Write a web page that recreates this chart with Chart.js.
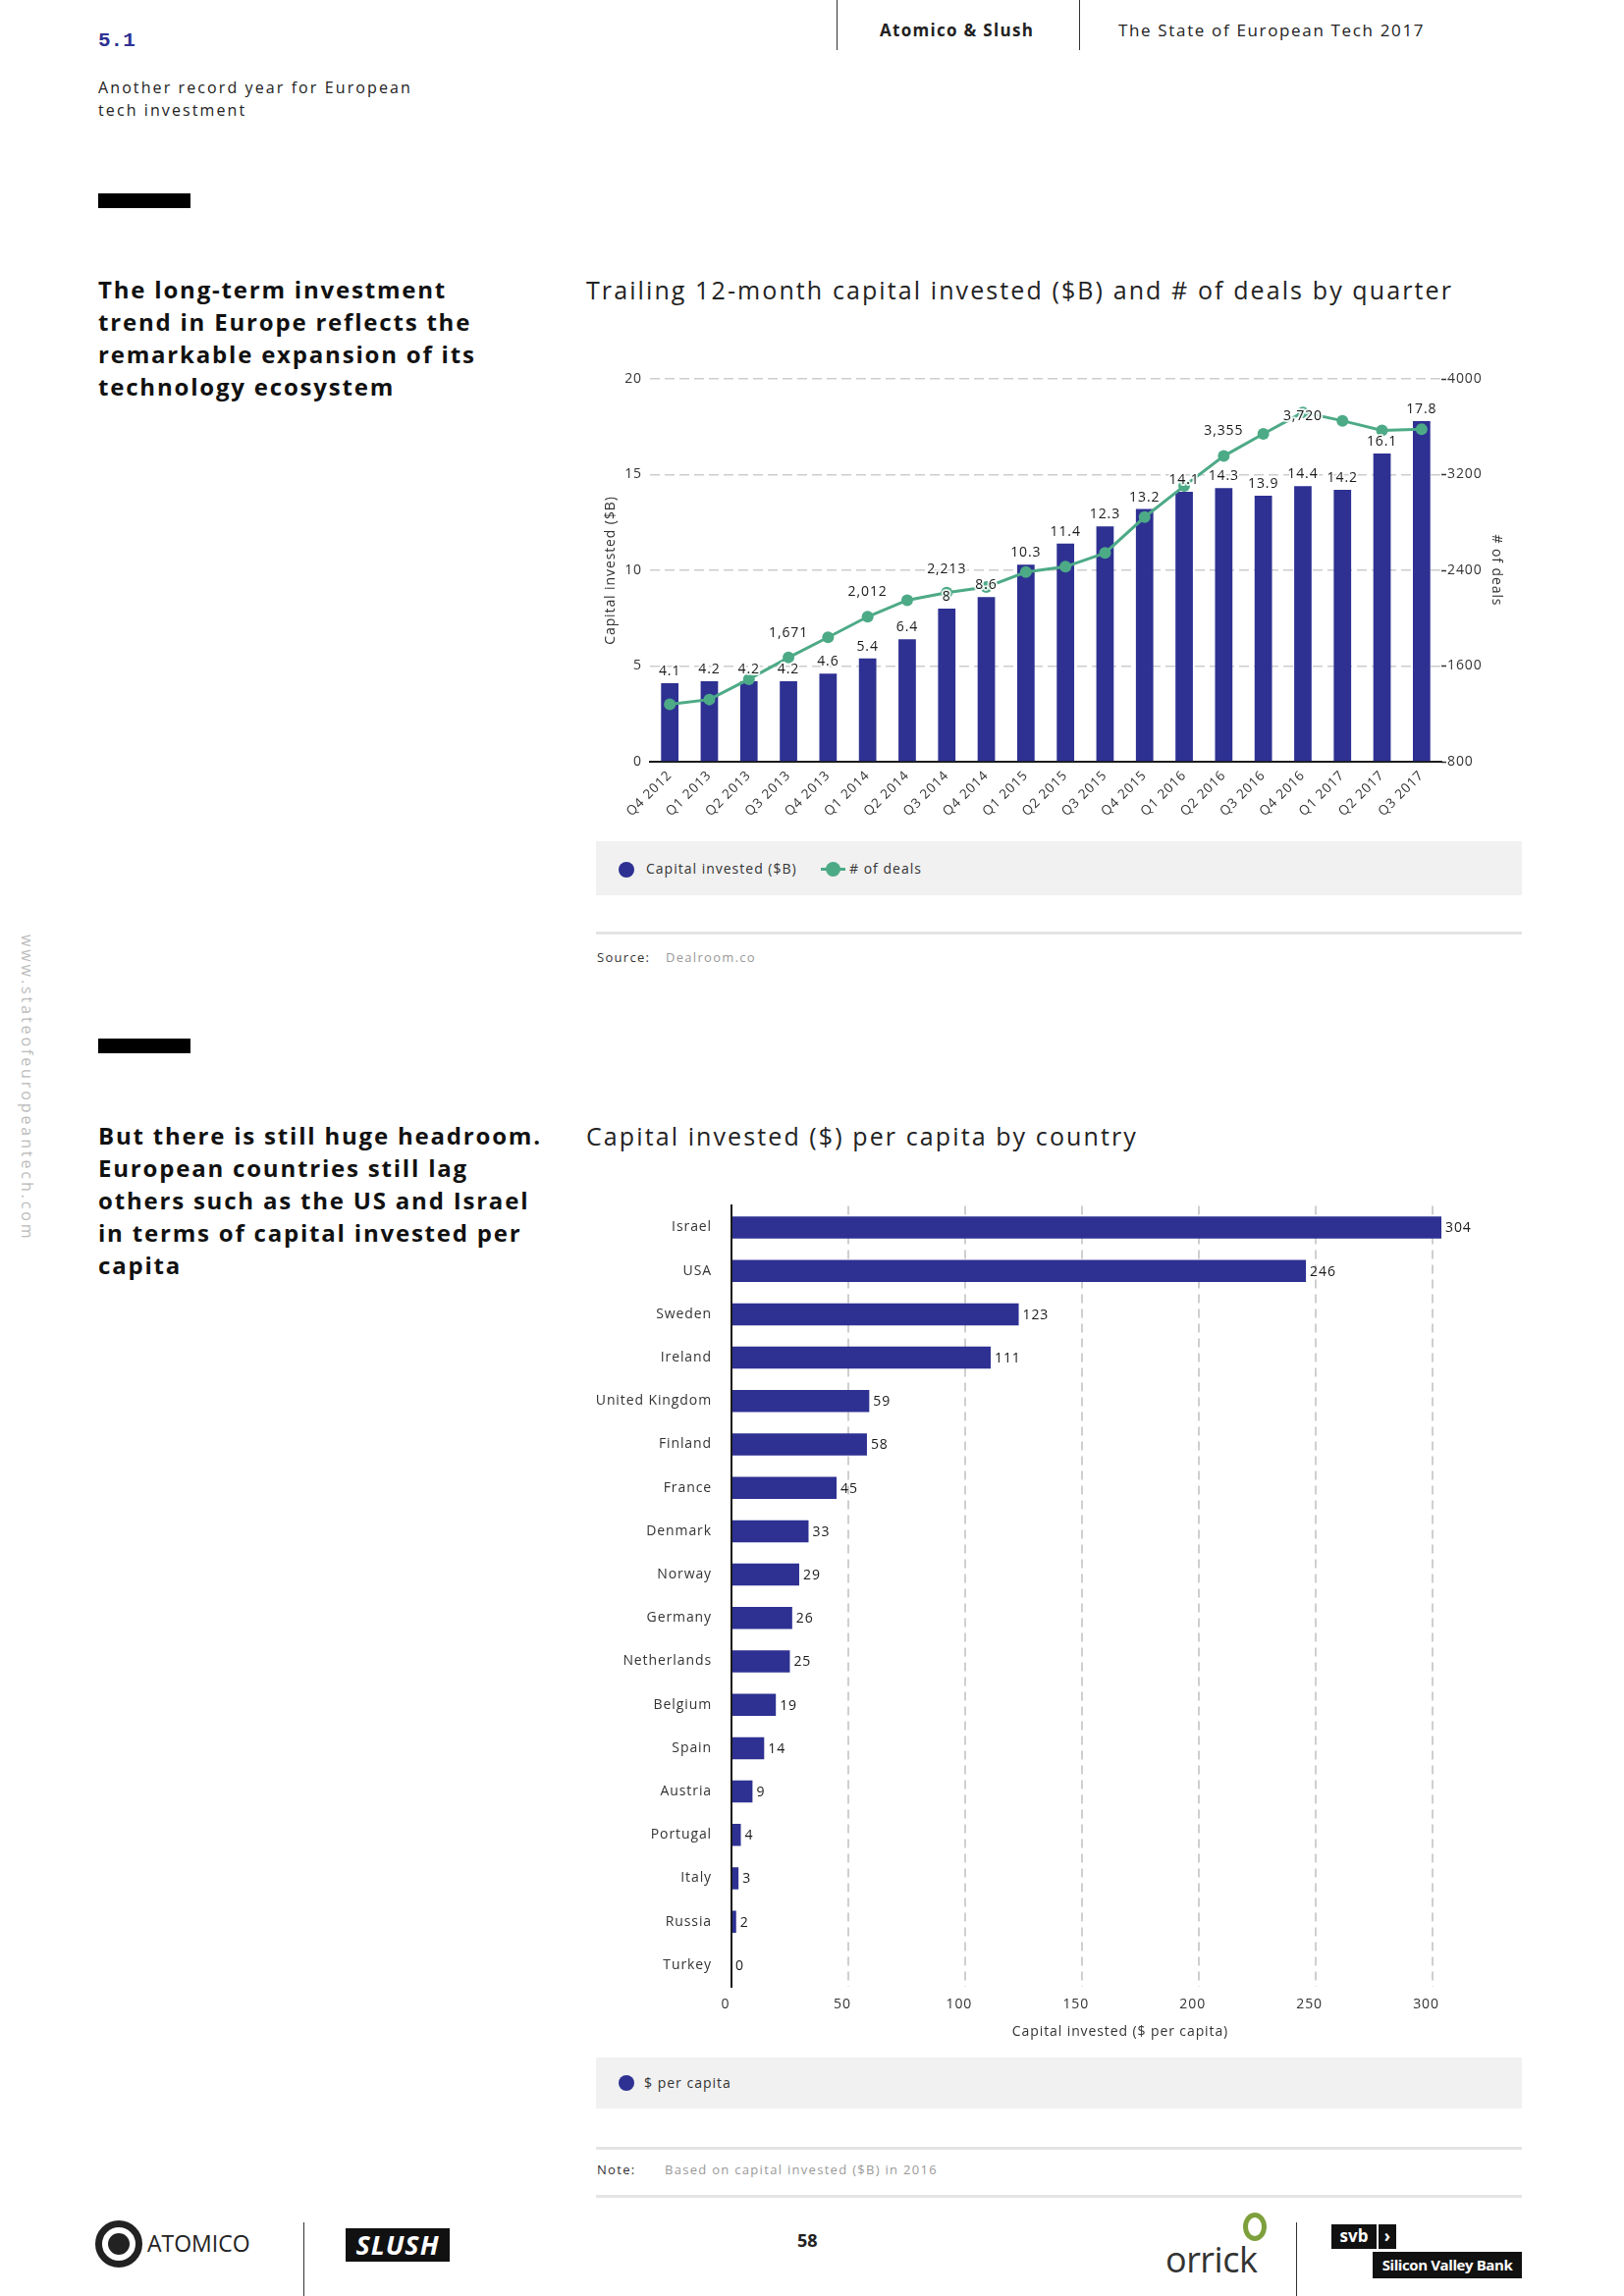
<!DOCTYPE html>
<html>
<head>
<meta charset="utf-8">
<script src="https://cdn.jsdelivr.net/npm/chart.js@4.4.1/dist/chart.umd.min.js"></script>
<style>
  html,body{margin:0;padding:0;background:#fff;}
  body{width:1654px;height:2339px;position:relative;overflow:hidden;font-family:"Open Sans",sans-serif;color:#222;}
  .a{position:absolute;white-space:nowrap;}
  .vline{position:absolute;width:1px;background:#333;}
  .bar{position:absolute;background:#000;}
  .lead{font-size:16px;line-height:23px;letter-spacing:2.1px;color:#222;}
  .head{font-weight:700;font-size:24px;line-height:33px;letter-spacing:1.8px;color:#111;white-space:nowrap;}
  .ctitle{font-size:25px;line-height:30px;letter-spacing:2.1px;color:#222;}
  .legend{position:absolute;left:607px;width:943px;height:55px;background:#f1f1f1;}
  .legend .dot{position:absolute;width:16px;height:16px;border-radius:50%;background:#2e3192;}
  .legend .txt{position:absolute;font-size:14px;line-height:20px;letter-spacing:1px;color:#333;}
  .sep{position:absolute;left:607px;width:943px;height:3px;background:#e4e4e4;}
  .note{font-size:13px;line-height:18px;letter-spacing:1.3px;}
  canvas{position:absolute;}
</style>
</head>
<body>
<!-- header -->
<div class="vline" style="left:852px;top:0;height:51px;"></div>
<div class="vline" style="left:1099px;top:0;height:51px;"></div>
<div class="a" style="left:896px;top:20px;font-size:17px;line-height:22px;font-weight:700;letter-spacing:1.3px;">Atomico &amp; Slush</div>
<div class="a" style="left:1139px;top:20px;font-size:17px;line-height:22px;letter-spacing:1.65px;">The State of European Tech 2017</div>

<div class="a" style="left:100px;top:29px;font-family:'Liberation Mono',monospace;font-weight:700;font-size:21px;line-height:26px;color:#2e3192;">5.1</div>
<div class="a lead" style="left:100px;top:78px;">Another record year for European<br>tech investment</div>

<div class="a" style="left:17px;top:952px;writing-mode:vertical-rl;font-size:16px;letter-spacing:2.9px;color:#bbb;">www.stateofeuropeantech.com</div>

<!-- section 1 -->
<div class="bar" style="left:100px;top:197px;width:94px;height:15px;"></div>
<div class="a head" style="left:100px;top:278px;">The long-term investment<br>trend in Europe reflects the<br>remarkable expansion of its<br>technology ecosystem</div>
<div class="a ctitle" style="left:597px;top:280px;">Trailing 12-month capital invested ($B) and # of deals by quarter</div>
<canvas id="c1" width="970" height="480" style="left:590px;top:360px;width:970px;height:480px;"></canvas>

<div class="legend" style="top:857px;">
  <div class="dot" style="left:23px;top:21px;"></div>
  <div class="txt" style="left:51px;top:18px;">Capital invested ($B)</div>
  <div style="position:absolute;left:229px;top:27px;width:25px;height:3px;background:#4daa87;"></div>
  <div style="position:absolute;left:234px;top:21px;width:15px;height:15px;border-radius:50%;background:#4daa87;"></div>
  <div class="txt" style="left:258px;top:18px;">#&nbsp;of deals</div>
</div>
<div class="sep" style="top:949px;"></div>
<div class="a note" style="left:608px;top:966px;color:#333;">Source:</div>
<div class="a note" style="left:678px;top:966px;color:#999;">Dealroom.co</div>

<!-- section 2 -->
<div class="bar" style="left:100px;top:1058px;width:94px;height:15px;"></div>
<div class="a head" style="left:100px;top:1140px;">But there is still huge headroom.<br>European countries still lag<br>others such as the US and Israel<br>in terms of capital invested per<br>capita</div>
<div class="a ctitle" style="left:597px;top:1142px;">Capital invested ($) per capita by country</div>
<canvas id="c2" width="970" height="890" style="left:590px;top:1200px;width:970px;height:890px;"></canvas>

<div class="legend" style="top:2096px;height:52px;">
  <div class="dot" style="left:23px;top:18px;"></div>
  <div class="txt" style="left:49px;top:16px;">$ per capita</div>
</div>
<div class="sep" style="top:2187px;"></div>
<div class="a note" style="left:608px;top:2201px;color:#333;">Note:</div>
<div class="a note" style="left:677px;top:2201px;color:#999;">Based on capital invested ($B) in 2016</div>
<div class="sep" style="top:2236px;"></div>

<!-- footer -->
<div style="position:absolute;left:97px;top:2262px;width:34px;height:34px;border:7px solid #222;border-radius:50%;"></div>
<div style="position:absolute;left:110px;top:2275px;width:22px;height:22px;background:#222;border-radius:50%;"></div>
<div class="a" style="left:150px;top:2270px;font-size:23px;line-height:30px;letter-spacing:0px;color:#222;">ATOMICO</div>
<div class="vline" style="left:309px;top:2264px;height:75px;"></div>
<div class="a" style="left:352px;top:2270px;width:106px;height:34px;background:#111;color:#fff;font-weight:700;font-style:italic;font-size:27px;line-height:34px;text-align:center;letter-spacing:1px;">SLUSH</div>
<div class="a" style="left:812px;top:2270px;font-size:18px;line-height:24px;font-weight:700;">58</div>
<div style="position:absolute;left:1266px;top:2254px;width:14px;height:19px;border:5px solid #7ea03c;border-radius:50%;"></div>
<div class="a" style="left:1187px;top:2280px;font-size:36px;line-height:44px;color:#333;letter-spacing:-0.5px;">orrick</div>
<div class="vline" style="left:1320px;top:2264px;height:75px;"></div>
<div class="a" style="left:1356px;top:2266px;width:46px;height:25px;background:#111;color:#fff;font-weight:700;font-size:17px;line-height:24px;text-align:center;">svb</div>
<div class="a" style="left:1404px;top:2266px;width:18px;height:25px;background:#111;color:#fff;font-weight:700;font-size:17px;line-height:24px;text-align:center;">&#x203A;</div>
<div class="a" style="left:1398px;top:2294px;width:152px;height:27px;background:#111;color:#fff;font-weight:700;font-size:15px;line-height:27px;text-align:center;letter-spacing:-0.4px;">Silicon Valley Bank</div>

<script>
// ---------- data: chart 1 ----------
const quarters = ['Q4 2012','Q1 2013','Q2 2013','Q3 2013','Q4 2013','Q1 2014','Q2 2014','Q3 2014','Q4 2014','Q1 2015','Q2 2015','Q3 2015','Q4 2015','Q1 2016','Q2 2016','Q3 2016','Q4 2016','Q1 2017','Q2 2017','Q3 2017'];
const capitalInvested = [4.1,4.2,4.2,4.2,4.6,5.4,6.4,8,8.6,10.3,11.4,12.3,13.2,14.1,14.3,13.9,14.4,14.2,16.1,17.8];
const dealCounts = [1280,1320,1490,1671,1840,2012,2150,2213,2260,2385,2430,2545,2845,3105,3355,3540,3720,3650,3570,3580];
const capitalTicks = [0,5,10,15,20];
const dealTicks = [800,1600,2400,3200,4000];

// ---------- data: chart 2 ----------
const countries = ['Israel','USA','Sweden','Ireland','United Kingdom','Finland','France','Denmark','Norway','Germany','Netherlands','Belgium','Spain','Austria','Portugal','Italy','Russia','Turkey'];
const perCapita = [304,246,123,111,59,58,45,33,29,26,25,19,14,9,4,3,2,0];
const perCapitaTicks = [0,50,100,150,200,250,300];

const NAVY = '#2e3192';
const GREEN = '#4daa87';
Chart.defaults.font.family = '"Open Sans", sans-serif';
Chart.defaults.color = '#333';
Chart.defaults.animation = false;

// which deal labels are printed, and their vertical shift (style only)
const dealLabelShift = {3:-25, 5:-25, 7:-24, 14:-26, 16:4};

const spacing = {
  id: 'spacing',
  beforeLayout(chart) { chart.ctx.letterSpacing = '0.9px'; },
  beforeDraw(chart) { chart.ctx.letterSpacing = '0.9px'; }
};

function haloText(ctx, txt, x, y) {
  ctx.lineWidth = 4;
  ctx.strokeStyle = 'rgba(255,255,255,0.85)';
  ctx.strokeText(txt, x, y);
  ctx.fillStyle = '#1a1a1a';
  ctx.fillText(txt, x, y);
}

const labels1 = {
  id: 'labels1',
  afterDatasetsDraw(chart) {
    const ctx = chart.ctx;
    ctx.save();
    ctx.font = '14px "Open Sans", sans-serif';
    ctx.textAlign = 'center';
    ctx.textBaseline = 'middle';
    ctx.lineJoin = 'round';
    chart.getDatasetMeta(0).data.forEach((el, i) => {
      haloText(ctx, String(capitalInvested[i]), el.x, el.y - 12);
    });
    const lm = chart.getDatasetMeta(1).data;
    Object.keys(dealLabelShift).forEach(k => {
      const el = lm[k];
      haloText(ctx, dealCounts[k].toLocaleString('en-US'), el.x, el.y + dealLabelShift[k]);
    });
    ctx.restore();
  }
};

new Chart(document.getElementById('c1'), {
  data: {
    labels: quarters,
    datasets: [
      {type:'bar', label:'Capital invested ($B)', data:capitalInvested, backgroundColor:NAVY, yAxisID:'y',
       barPercentage:0.44, categoryPercentage:1, order:2},
      {type:'line', label:'# of deals', data:dealCounts, borderColor:GREEN, backgroundColor:GREEN, borderWidth:3,
       pointRadius:6, pointBackgroundColor:GREEN, pointBorderWidth:0, yAxisID:'y2', tension:0, order:1}
    ]
  },
  options: {
    responsive:false,
    layout:{padding:{top:26,right:0,left:0,bottom:0}},
    plugins:{legend:{display:false}, tooltip:{enabled:false}},
    scales:{
      x:{
        grid:{display:false, drawTicks:false},
        border:{display:true, color:'#1a1a1a', width:2},
        ticks:{autoSkip:false, minRotation:45, maxRotation:45, padding:6, font:{size:13.5}, color:'#333'},
        afterFit(s){ s.height = 64; }
      },
      y:{
        position:'left', min:0, max:20,
        afterBuildTicks(s){ s.ticks = capitalTicks.map(v => ({value:v})); },
        ticks:{padding:8, font:{size:14}, color:'#333'},
        grid:{color:'#cdcdcd', lineWidth:1.5, drawTicks:false},
        border:{display:false, dash:[10,5]},
        title:{display:true, text:'Capital invested ($B)', font:{size:14}, color:'#333', padding:{top:24, bottom:0}},
        afterFit(s){ s.width = 72; }
      },
      y2:{
        position:'right', min:800, max:4000,
        afterBuildTicks(s){ s.ticks = dealTicks.map(v => ({value:v})); },
        ticks:{padding:1, font:{size:14}, color:'#333', callback:(v) => String(v)},
        grid:{drawOnChartArea:false, drawTicks:true, tickLength:5, tickColor:'#333', tickWidth:1.5},
        border:{display:false},
        title:{display:true, text:'# of deals', font:{size:14}, color:'#333', padding:{top:28, bottom:0}},
        afterFit(s){ s.width = 92; }
      }
    }
  },
  plugins:[spacing, labels1]
});

const labels2 = {
  id: 'labels2',
  afterDatasetsDraw(chart) {
    const ctx = chart.ctx;
    ctx.save();
    ctx.font = '14px "Open Sans", sans-serif';
    ctx.textAlign = 'left';
    ctx.textBaseline = 'middle';
    ctx.fillStyle = '#1a1a1a';
    chart.getDatasetMeta(0).data.forEach((el, i) => {
      ctx.fillText(String(perCapita[i]), el.x + 4, el.y + 1);
    });
    ctx.restore();
  }
};

new Chart(document.getElementById('c2'), {
  type:'bar',
  data:{
    labels:countries,
    datasets:[{label:'$ per capita', data:perCapita, backgroundColor:NAVY, barPercentage:0.51, categoryPercentage:1}]
  },
  options:{
    indexAxis:'y',
    responsive:false,
    layout:{padding:{top:0, right:23, left:0, bottom:0}},
    plugins:{legend:{display:false}, tooltip:{enabled:false}},
    scales:{
      x:{
        min:0, max:333,
        afterBuildTicks(s){ s.ticks = perCapitaTicks.map(v => ({value:v})); },
        ticks:{padding:10, labelOffset:-6, font:{size:14}, color:'#333'},
        grid:{color:(c) => (c.tick && c.tick.value === 0) ? 'rgba(0,0,0,0)' : '#cfcfcf', lineWidth:2, drawTicks:false},
        border:{display:false, dash:[9,6]},
        title:{display:true, text:'Capital invested ($ per capita)', font:{size:14}, color:'#333', padding:{top:0, bottom:12}},
        afterFit(s){ s.height = 66; }
      },
      y:{
        grid:{display:false, drawTicks:false},
        border:{display:true, color:'#1a1a1a', width:2},
        ticks:{padding:20, autoSkip:false, font:{size:14}, color:'#333'},
        afterFit(s){ s.width = 155; }
      }
    }
  },
  plugins:[spacing, labels2]
});
</script>
</body>
</html>
